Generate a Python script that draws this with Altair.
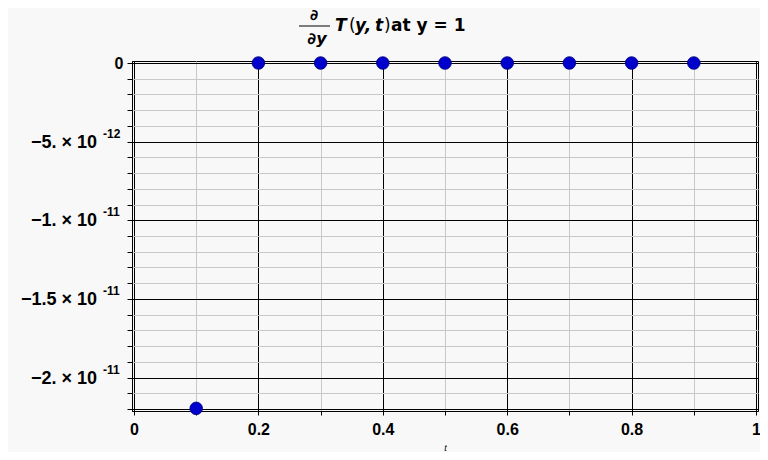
import altair as alt
import pandas as pd

# data
t_vals = [0.1, 0.2, 0.3, 0.4, 0.5, 0.6, 0.7, 0.8, 0.9]
dT_vals = [-2.196e-11, 0, 0, 0, 0, 0, 0, 0, 0]

x_ticks = [round(i * 0.1, 1) for i in range(11)]
y_ticks = [-i * 1e-12 for i in range(23)]

y_label_vals = [-5e-12, -1e-11, -1.5e-11, -2e-11]
y_mantissa = ["\u22125. \u00d7 10", "\u22121. \u00d7 10", "\u22121.5 \u00d7 10", "\u22122. \u00d7 10"]
y_exponent = ["-12", "-11", "-11", "-11"]

FONT = "Liberation Sans"
TFONT = "DejaVu Sans"
W, H = 626, 350
xdom = [-0.003215, 1.003215]
ydom = [-2.212717e-11, 1.2717e-13]

pts = pd.DataFrame({"t": t_vals, "v": dT_vals})
lab = pd.DataFrame({"v": y_label_vals, "m": y_mantissa, "e": y_exponent})

xscale = alt.Scale(domain=xdom, nice=False, zero=False)
yscale = alt.Scale(domain=ydom, nice=False, zero=False)

xgrid_cond = {"condition": {"test": "abs(datum.value*5 - round(datum.value*5)) < 1e-6", "value": "black"},
              "value": "#c8c8c8"}
ygrid_cond = {"condition": {"test": "abs(datum.value/5e-12 - round(datum.value/5e-12)) < 1e-6 || datum.value < -2.15e-11",
                            "value": "black"},
              "value": "#c8c8c8"}

points = alt.Chart(pts).mark_circle(size=160, opacity=1, color="#0000cc", stroke="#00007a", strokeWidth=0.8).encode(
    x=alt.X("t:Q", scale=xscale,
            axis=alt.Axis(values=x_ticks, tickCount=100, grid=True, gridColor=xgrid_cond, gridOpacity=1,
                          labelExpr="abs(datum.value*5 - round(datum.value*5)) < 1e-6 ? format(datum.value, '~g') : ''",
                          labelFont=FONT, labelFontSize=16, labelFontWeight="bold", labelColor="black",
                          tickColor="black", tickSize=4, domainColor="black", labelPadding=6,
                          labelOverlap=False,
                          title="t", titleFont=FONT, titleFontSize=9, titleFontStyle="italic",
                          titleFontWeight="normal", titleColor="black", titlePadding=6, labelFlush=False)),
    y=alt.Y("v:Q", scale=yscale,
            axis=alt.Axis(values=y_ticks, tickCount=100, grid=True, gridColor=ygrid_cond, gridOpacity=1,
                          labelExpr="datum.value == 0 ? '0' : ''",
                          labelFont=FONT, labelFontSize=16, labelFontWeight="bold", labelColor="black",
                          tickColor="black", tickSize=5, domainColor="black", labelPadding=4,
                          labelOverlap=False,
                          title=None, labelFlush=False)),
)

mant = alt.Chart(lab).mark_text(align="right", baseline="middle", font=FONT, fontSize=18,
                                fontWeight="bold", color="black", dy=1).encode(
    x=alt.value(-35), y=alt.Y("v:Q", scale=yscale), text="m:N")
expo = alt.Chart(lab).mark_text(align="left", baseline="middle", font=FONT, fontSize=12,
                                fontWeight="bold", color="black", dy=-8).encode(
    x=alt.value(-29), y=alt.Y("v:Q", scale=yscale), text="e:N")

title_df = pd.DataFrame({"a": [1]})
tbase = alt.Chart(title_df)


def ttext(txt, x, y, size=16, style="normal", weight="bold", align="left"):
    return tbase.mark_text(align=align, baseline="middle", font=TFONT, fontSize=size, fontWeight=weight,
                           fontStyle=style, color="black").encode(x=alt.value(x), y=alt.value(y), text=alt.value(txt))


d_top = ttext("\u2202", 182, -46, size=15, align="center")
d_bot = ttext("\u2202y", 185, -22, style="italic", align="center")
frac = tbase.mark_rule(color="black", strokeWidth=1).encode(x=alt.value(167), x2=alt.value(198), y=alt.value(-35))
p_T = ttext("T", 203, -35, style="italic", size=17)
p_lp = ttext("(", 217, -35, weight="normal", size=17)
p_y = ttext("y,", 223, -35, style="italic", size=17)
p_t = ttext("t", 243, -35, style="italic", size=17)
p_rp = ttext(")", 252, -35, weight="normal", size=17)
p_at = ttext("at y = 1", 259, -35, size=17)

chart = alt.layer(points, mant, expo, d_top, d_bot, frac, p_T, p_lp, p_y, p_t, p_rp, p_at).properties(
    width=W, height=H,
    autosize=alt.AutoSizeParams(type="none"),
    padding={"left": 124, "top": 53, "right": 2, "bottom": 41},
    background="#f8f8f8",
).configure_view(stroke="black", strokeWidth=1, fill="#f8f8f8")

chart.save("out.html", embed_options={"renderer": "svg", "actions": False})
